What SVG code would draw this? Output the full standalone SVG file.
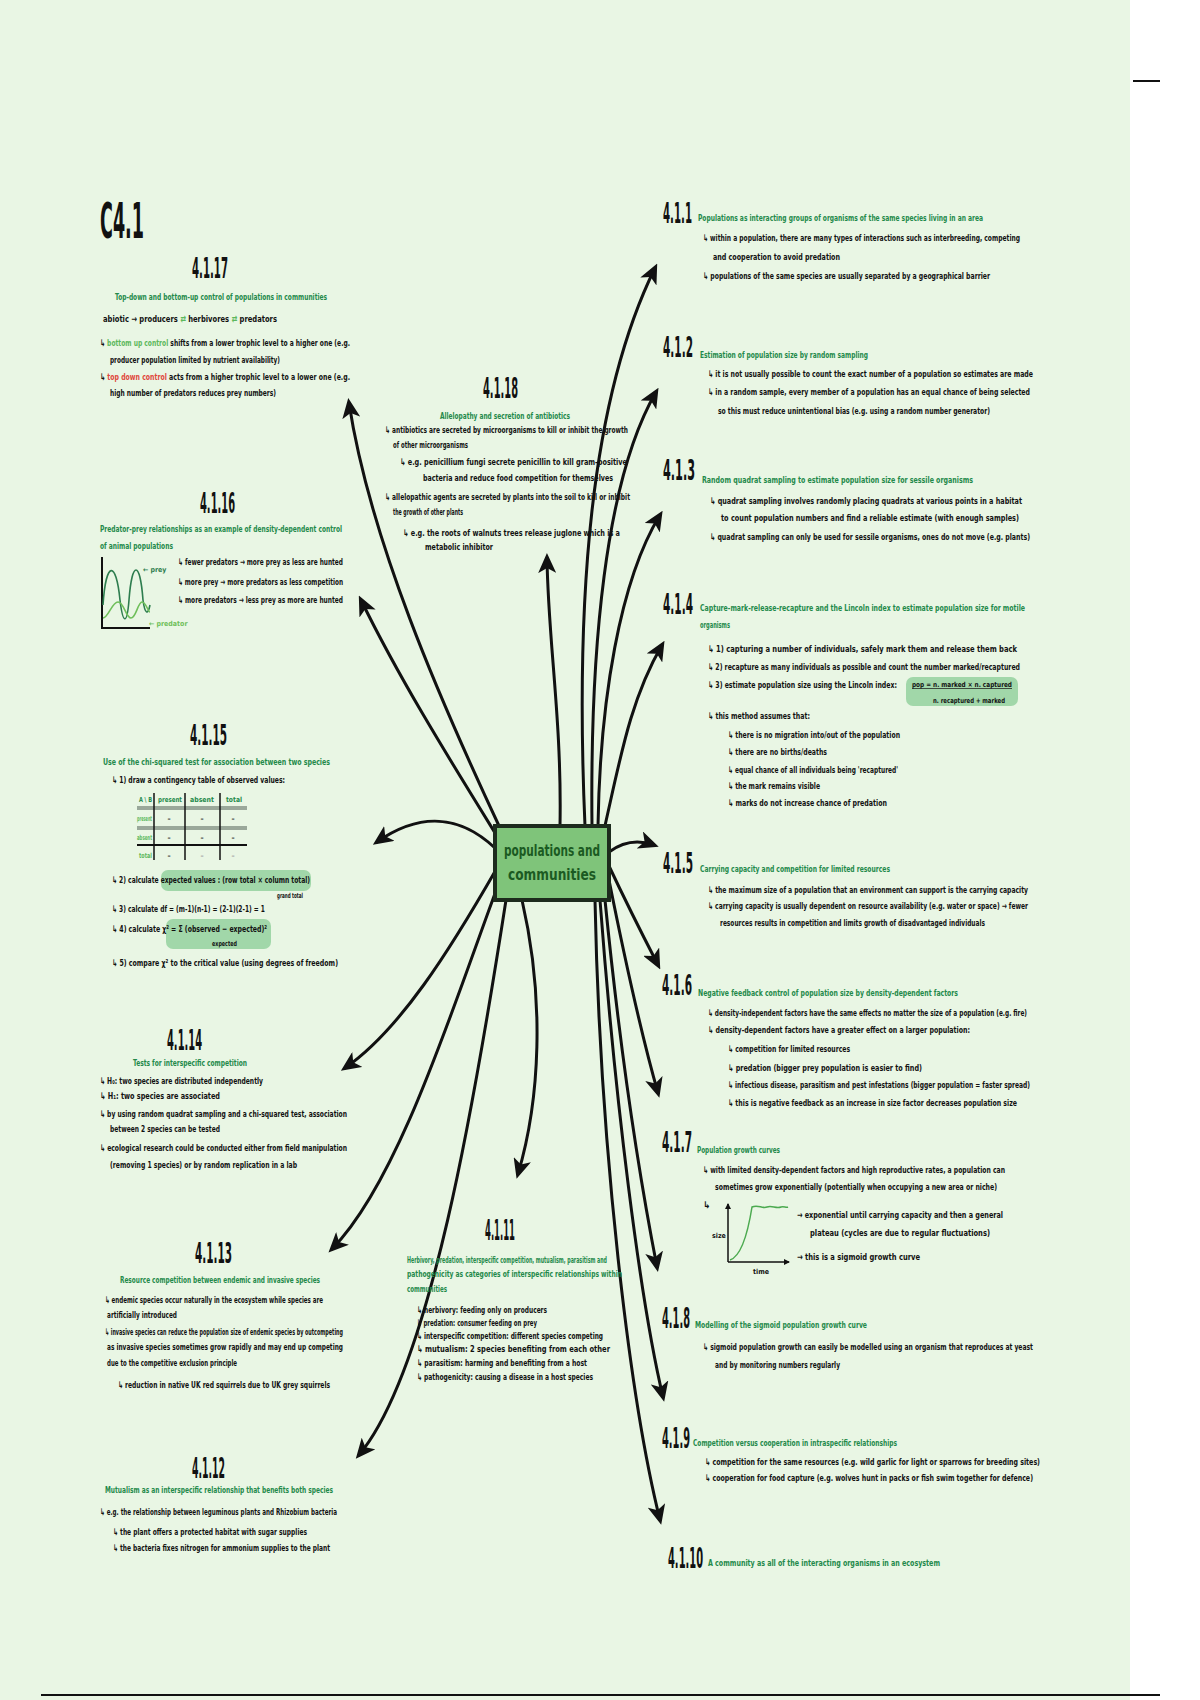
<svg xmlns="http://www.w3.org/2000/svg" width="1200" height="1700" viewBox="0 0 1200 1700">
<defs>
<style>
.h{font-family:"DejaVu Sans Condensed","DejaVu Sans",sans-serif;font-weight:bold;font-size:28px;fill:#111}
.g{font-family:"DejaVu Sans Condensed","DejaVu Sans",sans-serif;font-weight:bold;font-size:9.5px;fill:#23894a}
.b{font-family:"DejaVu Sans Condensed","DejaVu Sans",sans-serif;font-weight:bold;font-size:9.5px;fill:#111}
.s{font-family:"DejaVu Sans Condensed","DejaVu Sans",sans-serif;font-weight:bold;font-size:7px;fill:#111}
.lg{fill:#5cb85c}
.rd{fill:#e0463c}
.ar{fill:none;stroke:#111;stroke-width:3;stroke-linecap:round;marker-end:url(#ah)}
.hl{fill:#8fcf9a;opacity:0.8}
</style>
<marker id="ah" markerWidth="20" markerHeight="18" refX="15" refY="9" orient="auto" markerUnits="userSpaceOnUse">
<path d="M0,0 L20,9 L0,18 L5,9 z" fill="#111"/>
</marker>
<marker id="sa" markerWidth="6" markerHeight="6" refX="5" refY="3" orient="auto" markerUnits="userSpaceOnUse">
<path d="M0,0 L6,3 L0,6 z" fill="#111"/>
</marker>
</defs>
<rect x="0" y="0" width="1200" height="1700" fill="#ffffff"/>
<rect x="0" y="0" width="1130" height="1700" fill="#e9f6e4"/>
<line x1="1133" y1="81" x2="1160" y2="81" stroke="#111" stroke-width="2"/>
<line x1="41" y1="1695" x2="1160" y2="1695" stroke="#111" stroke-width="2"/>

<g id="connectors">
<path class="ar" d="M500 828 C440 700 370 540 349 403"/>
<path class="ar" d="M497 836 C450 760 400 680 361 600"/>
<path class="ar" d="M495 848 C460 815 420 812 377 842"/>
<path class="ar" d="M497 868 C450 950 400 1030 345 1068"/>
<path class="ar" d="M500 880 C455 1000 400 1180 332 1249"/>
<path class="ar" d="M506 900 C475 1100 430 1370 359 1455"/>
<path class="ar" d="M522 900 C545 1000 540 1100 518 1174"/>
<path class="ar" d="M560 826 C562 720 548 640 547 558"/>
<path class="ar" d="M585 826 C575 600 590 400 655 268"/>
<path class="ar" d="M592 826 C590 650 605 480 656 392"/>
<path class="ar" d="M598 826 C600 700 620 580 660 515"/>
<path class="ar" d="M604 830 C620 760 630 700 662 645"/>
<path class="ar" d="M609 852 C625 840 640 840 654 845"/>
<path class="ar" d="M609 866 C625 900 640 930 658 965"/>
<path class="ar" d="M609 880 C625 960 640 1030 658 1093"/>
<path class="ar" d="M605 900 C620 1050 640 1180 657 1267"/>
<path class="ar" d="M600 900 C615 1100 640 1300 663 1397"/>
<path class="ar" d="M595 900 C600 1150 630 1400 660 1520"/>
</g>

<g id="center">
<rect x="495" y="826" width="114" height="74" fill="#7fc47a" stroke="#1d2b1d" stroke-width="4"/>
<text x="552" y="856" text-anchor="middle" font-family="DejaVu Sans Condensed, DejaVu Sans, sans-serif" font-weight="bold" font-size="16" fill="#1b5a22" textLength="96" lengthAdjust="spacingAndGlyphs">populations and</text>
<text x="552" y="880" text-anchor="middle" font-family="DejaVu Sans Condensed, DejaVu Sans, sans-serif" font-weight="bold" font-size="16" fill="#1b5a22" textLength="88" lengthAdjust="spacingAndGlyphs">communities</text>
</g>

<g id="title">
<text x="100" y="238" class="h" style="font-size:50px" textLength="44" lengthAdjust="spacingAndGlyphs">C4.1</text>
</g>

<g id="n4117">
<text x="192" y="278" class="h" textLength="36" lengthAdjust="spacingAndGlyphs">4.1.17</text>
<text x="115" y="300" class="g" textLength="212" lengthAdjust="spacingAndGlyphs">Top-down and bottom-up control of populations in communities</text>
<text x="103" y="322" class="b" textLength="174" lengthAdjust="spacingAndGlyphs">abiotic → producers <tspan class="lg">⇄</tspan> herbivores <tspan class="lg">⇄</tspan> predators</text>
<text x="100" y="346" class="b" textLength="250" lengthAdjust="spacingAndGlyphs">↳ <tspan class="lg">bottom up control</tspan> shifts from a lower trophic level to a higher one (e.g.</text>
<text x="110" y="363" class="b" textLength="170" lengthAdjust="spacingAndGlyphs">producer population limited by nutrient availability)</text>
<text x="100" y="380" class="b" textLength="250" lengthAdjust="spacingAndGlyphs">↳ <tspan class="rd">top down control</tspan> acts from a higher trophic level to a lower one (e.g.</text>
<text x="110" y="396" class="b" textLength="166" lengthAdjust="spacingAndGlyphs">high number of predators reduces prey numbers)</text>
</g>

<g id="n4118">
<text x="483" y="398" class="h" textLength="35" lengthAdjust="spacingAndGlyphs">4.1.18</text>
<text x="440" y="419" class="g" textLength="130" lengthAdjust="spacingAndGlyphs">Allelopathy and secretion of antibiotics</text>
<text x="385" y="433" class="b" textLength="243" lengthAdjust="spacingAndGlyphs">↳ antibiotics are secreted by microorganisms to kill or inhibit the growth</text>
<text x="393" y="448" class="b" textLength="75" lengthAdjust="spacingAndGlyphs">of other microorganisms</text>
<text x="400" y="465" class="b" textLength="227" lengthAdjust="spacingAndGlyphs">↳ e.g. penicillium fungi secrete penicillin to kill gram-positive</text>
<text x="423" y="481" class="b" textLength="190" lengthAdjust="spacingAndGlyphs">bacteria and reduce food competition for themselves</text>
<text x="385" y="500" class="b" textLength="245" lengthAdjust="spacingAndGlyphs">↳ allelopathic agents are secreted by plants into the soil to kill or inhibit</text>
<text x="393" y="515" class="b" textLength="70" lengthAdjust="spacingAndGlyphs">the growth of other plants</text>
<text x="403" y="536" class="b" textLength="217" lengthAdjust="spacingAndGlyphs">↳ e.g. the roots of walnuts trees release juglone which is a</text>
<text x="425" y="550" class="b" textLength="68" lengthAdjust="spacingAndGlyphs">metabolic inhibitor</text>
</g>

<g id="n4116">
<text x="200" y="513" class="h" textLength="35" lengthAdjust="spacingAndGlyphs">4.1.16</text>
<text x="100" y="532" class="g" textLength="242" lengthAdjust="spacingAndGlyphs">Predator-prey relationships as an example of density-dependent control</text>
<text x="100" y="549" class="g" textLength="73" lengthAdjust="spacingAndGlyphs">of animal populations</text>
<path d="M102 557 V628 H150" fill="none" stroke="#111" stroke-width="2"/>
<path d="M103 605 C106 560 116 560 120 600 C123 625 127 625 129 600 C132 560 140 560 143 600 C145 615 148 615 150 605" fill="none" stroke="#2e7d4f" stroke-width="1.6"/>
<path d="M103 618 C108 618 112 602 118 602 C124 602 126 618 131 618 C136 618 138 602 142 602 C146 602 148 612 150 612" fill="none" stroke="#6fbf5a" stroke-width="1.6"/>
<text x="143" y="572" class="s" style="fill:#2e7d4f">← prey</text>
<text x="149" y="626" class="s" style="fill:#6fbf5a">← predator</text>
<text x="178" y="565" class="b" textLength="165" lengthAdjust="spacingAndGlyphs">↳ fewer predators → more prey as less are hunted</text>
<text x="178" y="585" class="b" textLength="165" lengthAdjust="spacingAndGlyphs">↳ more prey → more predators as less competition</text>
<text x="178" y="603" class="b" textLength="165" lengthAdjust="spacingAndGlyphs">↳ more predators → less prey as more are hunted</text>
</g>

<g id="n4115">
<text x="190" y="745" class="h" textLength="37" lengthAdjust="spacingAndGlyphs">4.1.15</text>
<text x="103" y="765" class="g" textLength="227" lengthAdjust="spacingAndGlyphs">Use of the chi-squared test for association between two species</text>
<text x="112" y="783" class="b" textLength="173" lengthAdjust="spacingAndGlyphs">↳ 1) draw a contingency table of observed values:</text>
<line x1="137" y1="808" x2="247" y2="808" stroke="#9aa89a" stroke-width="4"/>
<line x1="137" y1="828" x2="247" y2="828" stroke="#9aa89a" stroke-width="4"/>
<line x1="137" y1="845" x2="247" y2="845" stroke="#111" stroke-width="2"/>
<line x1="154" y1="793" x2="154" y2="860" stroke="#111" stroke-width="1.5"/>
<line x1="185" y1="793" x2="185" y2="860" stroke="#111" stroke-width="1.5"/>
<line x1="220" y1="793" x2="220" y2="860" stroke="#111" stroke-width="1.5"/>
<text x="139" y="802" class="s" style="fill:#23894a" textLength="13" lengthAdjust="spacingAndGlyphs">A \ B</text>
<text x="158" y="802" class="s" style="fill:#23894a" textLength="24" lengthAdjust="spacingAndGlyphs">present</text>
<text x="190" y="802" class="s" style="fill:#23894a" textLength="24" lengthAdjust="spacingAndGlyphs">absent</text>
<text x="226" y="802" class="s" style="fill:#23894a" textLength="16" lengthAdjust="spacingAndGlyphs">total</text>
<text x="137" y="821" class="s" style="fill:#5cb85c" textLength="15" lengthAdjust="spacingAndGlyphs">present</text>
<text x="137" y="840" class="s" style="fill:#5cb85c" textLength="15" lengthAdjust="spacingAndGlyphs">absent</text>
<text x="139" y="858" class="s" style="fill:#5cb85c" textLength="13" lengthAdjust="spacingAndGlyphs">total</text>
<text x="169" y="821" class="s" text-anchor="middle">–</text>
<text x="202" y="821" class="s" text-anchor="middle">–</text>
<text x="233" y="821" class="s" text-anchor="middle">–</text>
<text x="169" y="840" class="s" text-anchor="middle">–</text>
<text x="202" y="840" class="s" text-anchor="middle">–</text>
<text x="233" y="840" class="s" text-anchor="middle">–</text>
<text x="169" y="858" class="s" text-anchor="middle">–</text>
<text x="202" y="858" class="s" text-anchor="middle" style="fill:#999">–</text>
<text x="233" y="858" class="s" text-anchor="middle" style="fill:#999">–</text>
<rect x="161" y="870" width="150" height="21" rx="7" class="hl"/>
<text x="112" y="883" class="b" textLength="198" lengthAdjust="spacingAndGlyphs">↳ 2) calculate expected values : (row total × column total)</text>
<text x="277" y="898" class="s" textLength="26" lengthAdjust="spacingAndGlyphs">grand total</text>
<text x="112" y="912" class="b" textLength="153" lengthAdjust="spacingAndGlyphs">↳ 3) calculate df = (m-1)(n-1) = (2-1)(2-1) = 1</text>
<rect x="166" y="919" width="105" height="30" rx="7" class="hl"/>
<text x="112" y="932" class="b" textLength="155" lengthAdjust="spacingAndGlyphs">↳ 4) calculate χ² = Σ (observed − expected)²</text>
<text x="212" y="946" class="s" textLength="25" lengthAdjust="spacingAndGlyphs">expected</text>
<text x="112" y="966" class="b" textLength="226" lengthAdjust="spacingAndGlyphs">↳ 5) compare χ² to the critical value (using degrees of freedom)</text>
</g>

<g id="n4114">
<text x="167" y="1050" class="h" textLength="35" lengthAdjust="spacingAndGlyphs">4.1.14</text>
<text x="133" y="1066" class="g" textLength="114" lengthAdjust="spacingAndGlyphs">Tests for interspecific competition</text>
<text x="100" y="1084" class="b" textLength="163" lengthAdjust="spacingAndGlyphs">↳ H₀: two species are distributed independently</text>
<text x="100" y="1099" class="b" textLength="120" lengthAdjust="spacingAndGlyphs">↳ H₁: two species are associated</text>
<text x="100" y="1117" class="b" textLength="247" lengthAdjust="spacingAndGlyphs">↳ by using random quadrat sampling and a chi-squared test, association</text>
<text x="110" y="1132" class="b" textLength="110" lengthAdjust="spacingAndGlyphs">between 2 species can be tested</text>
<text x="100" y="1151" class="b" textLength="247" lengthAdjust="spacingAndGlyphs">↳ ecological research could be conducted either from field manipulation</text>
<text x="110" y="1168" class="b" textLength="187" lengthAdjust="spacingAndGlyphs">(removing 1 species) or by random replication in a lab</text>
</g>

<g id="n4113">
<text x="195" y="1263" class="h" textLength="37" lengthAdjust="spacingAndGlyphs">4.1.13</text>
<text x="120" y="1283" class="g" textLength="200" lengthAdjust="spacingAndGlyphs">Resource competition between endemic and invasive species</text>
<text x="105" y="1303" class="b" textLength="218" lengthAdjust="spacingAndGlyphs">↳ endemic species occur naturally in the ecosystem while species are</text>
<text x="107" y="1318" class="b" textLength="70" lengthAdjust="spacingAndGlyphs">artificially introduced</text>
<text x="105" y="1335" class="b" textLength="238" lengthAdjust="spacingAndGlyphs">↳ invasive species can reduce the population size of endemic species by outcompeting</text>
<text x="107" y="1350" class="b" textLength="236" lengthAdjust="spacingAndGlyphs">as invasive species sometimes grow rapidly and may end up competing</text>
<text x="107" y="1366" class="b" textLength="130" lengthAdjust="spacingAndGlyphs">due to the competitive exclusion principle</text>
<text x="118" y="1388" class="b" textLength="212" lengthAdjust="spacingAndGlyphs">↳ reduction in native UK red squirrels due to UK grey squirrels</text>
</g>

<g id="n4112">
<text x="192" y="1478" class="h" textLength="33" lengthAdjust="spacingAndGlyphs">4.1.12</text>
<text x="105" y="1493" class="g" textLength="228" lengthAdjust="spacingAndGlyphs">Mutualism as an interspecific relationship that benefits both species</text>
<text x="100" y="1515" class="b" textLength="237" lengthAdjust="spacingAndGlyphs">↳ e.g. the relationship between leguminous plants and Rhizobium bacteria</text>
<text x="113" y="1535" class="b" textLength="194" lengthAdjust="spacingAndGlyphs">↳ the plant offers a protected habitat with sugar supplies</text>
<text x="113" y="1551" class="b" textLength="217" lengthAdjust="spacingAndGlyphs">↳ the bacteria fixes nitrogen for ammonium supplies to the plant</text>
</g>

<g id="n4111">
<text x="485" y="1240" class="h" textLength="30" lengthAdjust="spacingAndGlyphs">4.1.11</text>
<text x="407" y="1263" class="g" textLength="200" lengthAdjust="spacingAndGlyphs">Herbivory, predation, interspecific competition, mutualism, parasitism and</text>
<text x="407" y="1277" class="g" textLength="215" lengthAdjust="spacingAndGlyphs">pathogenicity as categories of interspecific relationships within</text>
<text x="407" y="1292" class="g" textLength="40" lengthAdjust="spacingAndGlyphs">communities</text>
<text x="417" y="1313" class="b" textLength="130" lengthAdjust="spacingAndGlyphs">↳ herbivory: feeding only on producers</text>
<text x="417" y="1326" class="b" textLength="120" lengthAdjust="spacingAndGlyphs">↳ predation: consumer feeding on prey</text>
<text x="417" y="1339" class="b" textLength="186" lengthAdjust="spacingAndGlyphs">↳ interspecific competition: different species competing</text>
<text x="417" y="1352" class="b" textLength="193" lengthAdjust="spacingAndGlyphs">↳ mutualism: 2 species benefiting from each other</text>
<text x="417" y="1366" class="b" textLength="170" lengthAdjust="spacingAndGlyphs">↳ parasitism: harming and benefiting from a host</text>
<text x="417" y="1380" class="b" textLength="176" lengthAdjust="spacingAndGlyphs">↳ pathogenicity: causing a disease in a host species</text>
</g>

<g id="n411">
<text x="663" y="223" class="h" textLength="29" lengthAdjust="spacingAndGlyphs">4.1.1</text>
<text x="698" y="221" class="g" textLength="285" lengthAdjust="spacingAndGlyphs">Populations as interacting groups of organisms of the same species living in an area</text>
<text x="703" y="241" class="b" textLength="317" lengthAdjust="spacingAndGlyphs">↳ within a population, there are many types of interactions such as interbreeding, competing</text>
<text x="713" y="260" class="b" textLength="127" lengthAdjust="spacingAndGlyphs">and cooperation to avoid predation</text>
<text x="703" y="279" class="b" textLength="287" lengthAdjust="spacingAndGlyphs">↳ populations of the same species are usually separated by a geographical barrier</text>
</g>

<g id="n412">
<text x="663" y="357" class="h" textLength="30" lengthAdjust="spacingAndGlyphs">4.1.2</text>
<text x="700" y="358" class="g" textLength="168" lengthAdjust="spacingAndGlyphs">Estimation of population size by random sampling</text>
<text x="708" y="377" class="b" textLength="325" lengthAdjust="spacingAndGlyphs">↳ it is not usually possible to count the exact number of a population so estimates are made</text>
<text x="708" y="395" class="b" textLength="322" lengthAdjust="spacingAndGlyphs">↳ in a random sample, every member of a population has an equal chance of being selected</text>
<text x="718" y="414" class="b" textLength="272" lengthAdjust="spacingAndGlyphs">so this must reduce unintentional bias (e.g. using a random number generator)</text>
</g>

<g id="n413">
<text x="663" y="480" class="h" textLength="32" lengthAdjust="spacingAndGlyphs">4.1.3</text>
<text x="702" y="483" class="g" textLength="271" lengthAdjust="spacingAndGlyphs">Random quadrat sampling to estimate population size for sessile organisms</text>
<text x="710" y="504" class="b" textLength="312" lengthAdjust="spacingAndGlyphs">↳ quadrat sampling involves randomly placing quadrats at various points in a habitat</text>
<text x="721" y="521" class="b" textLength="298" lengthAdjust="spacingAndGlyphs">to count population numbers and find a reliable estimate (with enough samples)</text>
<text x="710" y="540" class="b" textLength="320" lengthAdjust="spacingAndGlyphs">↳ quadrat sampling can only be used for sessile organisms, ones do not move (e.g. plants)</text>
</g>

<g id="n414">
<text x="663" y="614" class="h" textLength="30" lengthAdjust="spacingAndGlyphs">4.1.4</text>
<text x="700" y="611" class="g" textLength="325" lengthAdjust="spacingAndGlyphs">Capture-mark-release-recapture and the Lincoln index to estimate population size for motile</text>
<text x="700" y="628" class="g" textLength="30" lengthAdjust="spacingAndGlyphs">organisms</text>
<text x="708" y="652" class="b" textLength="309" lengthAdjust="spacingAndGlyphs">↳ 1) capturing a number of individuals, safely mark them and release them back</text>
<text x="708" y="670" class="b" textLength="312" lengthAdjust="spacingAndGlyphs">↳ 2) recapture as many individuals as possible and count the number marked/recaptured</text>
<text x="708" y="688" class="b" textLength="189" lengthAdjust="spacingAndGlyphs">↳ 3) estimate population size using the Lincoln index:</text>
<rect x="906" y="677" width="112" height="29" rx="7" class="hl"/>
<text x="912" y="687" class="s" textLength="100" lengthAdjust="spacingAndGlyphs" text-decoration="underline">pop = n. marked × n. captured</text>
<text x="933" y="703" class="s" textLength="72" lengthAdjust="spacingAndGlyphs">n. recaptured + marked</text>
<text x="708" y="719" class="b" textLength="102" lengthAdjust="spacingAndGlyphs">↳ this method assumes that:</text>
<text x="728" y="738" class="b" textLength="172" lengthAdjust="spacingAndGlyphs">↳ there is no migration into/out of the population</text>
<text x="728" y="755" class="b" textLength="99" lengthAdjust="spacingAndGlyphs">↳ there are no births/deaths</text>
<text x="728" y="773" class="b" textLength="170" lengthAdjust="spacingAndGlyphs">↳ equal chance of all individuals being 'recaptured'</text>
<text x="728" y="789" class="b" textLength="92" lengthAdjust="spacingAndGlyphs">↳ the mark remains visible</text>
<text x="728" y="806" class="b" textLength="159" lengthAdjust="spacingAndGlyphs">↳ marks do not increase chance of predation</text>
</g>

<g id="n415">
<text x="663" y="873" class="h" textLength="30" lengthAdjust="spacingAndGlyphs">4.1.5</text>
<text x="700" y="872" class="g" textLength="190" lengthAdjust="spacingAndGlyphs">Carrying capacity and competition for limited resources</text>
<text x="708" y="893" class="b" textLength="320" lengthAdjust="spacingAndGlyphs">↳ the maximum size of a population that an environment can support is the carrying capacity</text>
<text x="708" y="909" class="b" textLength="320" lengthAdjust="spacingAndGlyphs">↳ carrying capacity is usually dependent on resource availability (e.g. water or space) → fewer</text>
<text x="720" y="926" class="b" textLength="265" lengthAdjust="spacingAndGlyphs">resources results in competition and limits growth of disadvantaged individuals</text>
</g>

<g id="n416">
<text x="662" y="995" class="h" textLength="30" lengthAdjust="spacingAndGlyphs">4.1.6</text>
<text x="698" y="996" class="g" textLength="260" lengthAdjust="spacingAndGlyphs">Negative feedback control of population size by density-dependent factors</text>
<text x="708" y="1016" class="b" textLength="319" lengthAdjust="spacingAndGlyphs">↳ density-independent factors have the same effects no matter the size of a population (e.g. fire)</text>
<text x="708" y="1033" class="b" textLength="262" lengthAdjust="spacingAndGlyphs">↳ density-dependent factors have a greater effect on a larger population:</text>
<text x="728" y="1052" class="b" textLength="122" lengthAdjust="spacingAndGlyphs">↳ competition for limited resources</text>
<text x="728" y="1071" class="b" textLength="194" lengthAdjust="spacingAndGlyphs">↳ predation (bigger prey population is easier to find)</text>
<text x="728" y="1088" class="b" textLength="302" lengthAdjust="spacingAndGlyphs">↳ infectious disease, parasitism and pest infestations (bigger population = faster spread)</text>
<text x="728" y="1106" class="b" textLength="289" lengthAdjust="spacingAndGlyphs">↳ this is negative feedback as an increase in size factor decreases population size</text>
</g>

<g id="n417">
<text x="662" y="1152" class="h" textLength="30" lengthAdjust="spacingAndGlyphs">4.1.7</text>
<text x="697" y="1153" class="g" textLength="83" lengthAdjust="spacingAndGlyphs">Population growth curves</text>
<text x="703" y="1173" class="b" textLength="302" lengthAdjust="spacingAndGlyphs">↳ with limited density-dependent factors and high reproductive rates, a population can</text>
<text x="715" y="1190" class="b" textLength="282" lengthAdjust="spacingAndGlyphs">sometimes grow exponentially (potentially when occupying a new area or niche)</text>
<text x="703" y="1208" class="b">↳</text>
<path d="M728 1262 V1204" fill="none" stroke="#111" stroke-width="1.5" marker-end="url(#sa)"/>
<path d="M728 1262 H789" fill="none" stroke="#111" stroke-width="1.5" marker-end="url(#sa)"/>
<path d="M730 1260 C742 1256 748 1232 752 1207 C758 1204 762 1209 767 1207 C772 1205 776 1209 781 1207 C784 1206 786 1208 788 1207" fill="none" stroke="#4caa50" stroke-width="1.5"/>
<text x="712" y="1238" class="s">size</text>
<text x="753" y="1274" class="s">time</text>
<text x="797" y="1218" class="b" textLength="206" lengthAdjust="spacingAndGlyphs">→ exponential until carrying capacity and then a general</text>
<text x="810" y="1236" class="b" textLength="180" lengthAdjust="spacingAndGlyphs">plateau (cycles are due to regular fluctuations)</text>
<text x="797" y="1260" class="b" textLength="123" lengthAdjust="spacingAndGlyphs">→ this is a sigmoid growth curve</text>
</g>

<g id="n418">
<text x="662" y="1328" class="h" textLength="28" lengthAdjust="spacingAndGlyphs">4.1.8</text>
<text x="695" y="1328" class="g" textLength="172" lengthAdjust="spacingAndGlyphs">Modelling of the sigmoid population growth curve</text>
<text x="703" y="1350" class="b" textLength="330" lengthAdjust="spacingAndGlyphs">↳ sigmoid population growth can easily be modelled using an organism that reproduces at yeast</text>
<text x="715" y="1368" class="b" textLength="125" lengthAdjust="spacingAndGlyphs">and by monitoring numbers regularly</text>
</g>

<g id="n419">
<text x="662" y="1448" class="h" textLength="28" lengthAdjust="spacingAndGlyphs">4.1.9</text>
<text x="693" y="1446" class="g" textLength="204" lengthAdjust="spacingAndGlyphs">Competition versus cooperation in intraspecific relationships</text>
<text x="705" y="1465" class="b" textLength="335" lengthAdjust="spacingAndGlyphs">↳ competition for the same resources (e.g. wild garlic for light or sparrows for breeding sites)</text>
<text x="705" y="1481" class="b" textLength="328" lengthAdjust="spacingAndGlyphs">↳ cooperation for food capture (e.g. wolves hunt in packs or fish swim together for defence)</text>
</g>

<g id="n4110">
<text x="668" y="1568" class="h" textLength="35" lengthAdjust="spacingAndGlyphs">4.1.10</text>
<text x="708" y="1566" class="g" textLength="232" lengthAdjust="spacingAndGlyphs">A community as all of the interacting organisms in an ecosystem</text>
</g>
</svg>
